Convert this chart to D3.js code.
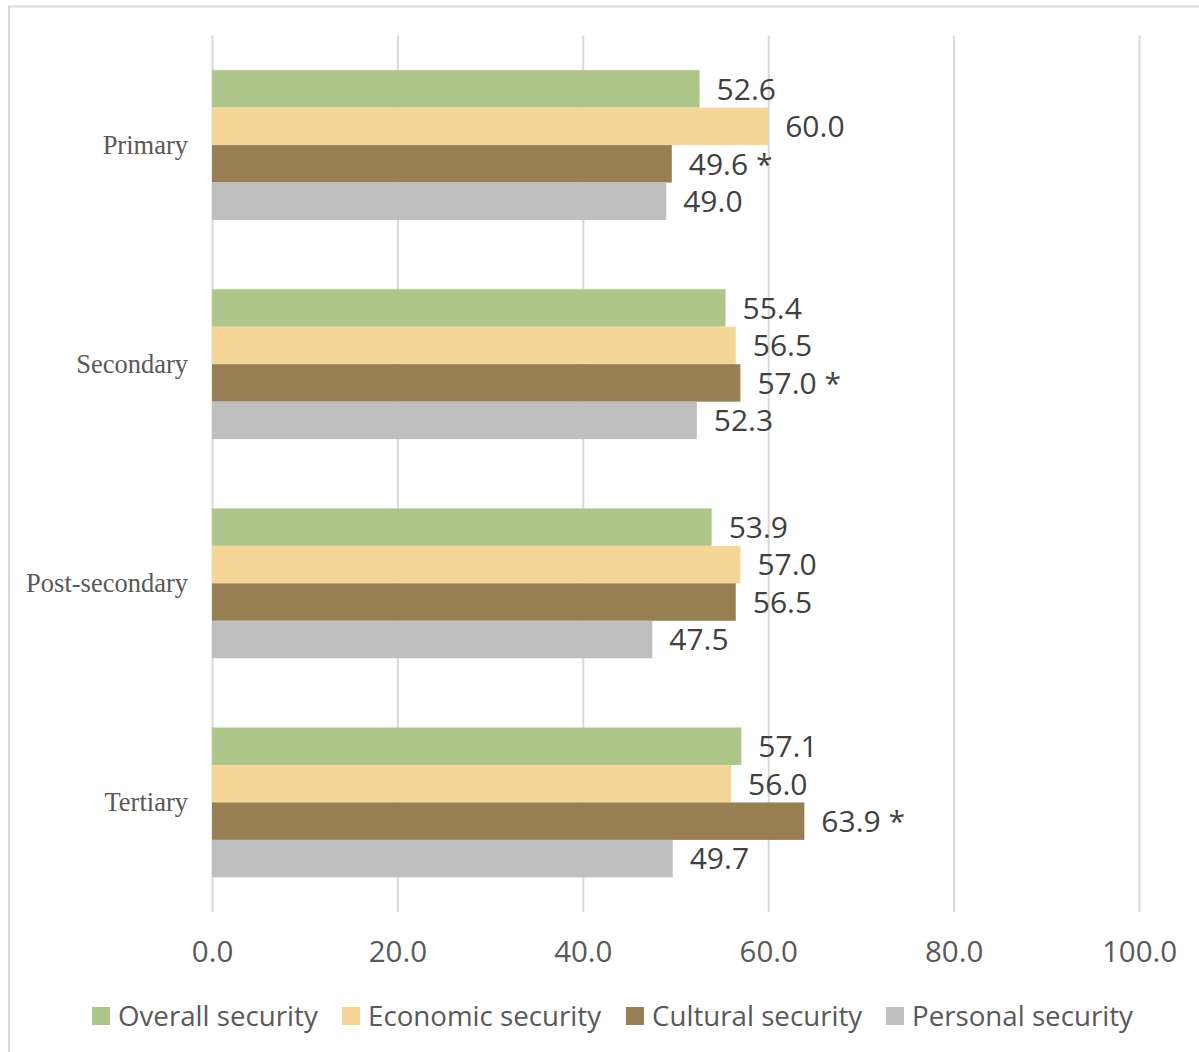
<!DOCTYPE html>
<html>
<head>
<meta charset="utf-8">
<script src="https://cdn.jsdelivr.net/npm/d3@7/dist/d3.min.js"></script>
<style>
  html, body { margin: 0; padding: 0; background: #fff; }
  svg { display: block; }
</style>
</head>
<body>
<svg id="chart" width="1199" height="1052"></svg>
<script>
// Education levels shown on the vertical axis
const categories = ["Primary", "Secondary", "Post-secondary", "Tertiary"];

// Security scores per education level
const overallSecurity  = [52.6, 55.4, 53.9, 57.1];
const economicSecurity = [60.0, 56.5, 57.0, 56.0];
const culturalSecurity = [49.6, 57.0, 56.5, 63.9];
const personalSecurity = [49.0, 52.3, 47.5, 49.7];

// Significance flags for the cultural security scores
const culturalSignificant = [true, true, false, true];

const seriesNames = ["Overall security", "Economic security", "Cultural security", "Personal security"];
const seriesColors = ["#aec68a", "#f5d696", "#987f53", "#bfbfbf"];
const tickValues = [0, 20, 40, 60, 80, 100];

const seriesValues = [overallSecurity, economicSecurity, culturalSecurity, personalSecurity];
const flags = [null, null, culturalSignificant, null];

const svg = d3.select("#chart");
const W = 1199, H = 1052;

// chart frame
svg.append("rect")
  .attr("x", 9).attr("y", 6.5)
  .attr("width", W + 20).attr("height", H + 20)
  .attr("fill", "#fff").attr("stroke", "#d9d9d9").attr("stroke-width", 2);

const plot = { left: 212, right: 1139, top: 35.5, bottom: 912 };

const x = d3.scaleLinear().domain([0, 100]).range([plot.left, plot.right]);
const y = d3.scaleBand().domain(categories).range([plot.top, plot.bottom]).paddingInner(0.316).paddingOuter(0.158);
const ySub = d3.scaleBand().domain(seriesNames).range([0, y.bandwidth()]);

// vertical gridlines
const grid = d3.axisBottom(x).tickValues(tickValues).tickSize(-(plot.bottom - plot.top)).tickFormat("");
svg.append("g")
  .attr("transform", `translate(0,${plot.bottom})`)
  .call(grid)
  .call(g => g.select(".domain").remove())
  .call(g => g.selectAll("line").attr("stroke", "#d9d9d9").attr("stroke-width", 2));

// value axis labels
const xAxis = d3.axisBottom(x).tickValues(tickValues).tickSize(0).tickPadding(0).tickFormat(d3.format(".1f"));
svg.append("g")
  .attr("transform", `translate(0,${plot.bottom})`)
  .call(xAxis)
  .call(g => g.select(".domain").remove())
  .call(g => g.selectAll("text")
    .attr("y", 50).attr("dy", 0)
    .attr("font-family", "Open Sans").attr("font-size", 29.5).attr("fill", "#595959"));

// category labels
const yAxis = d3.axisLeft(y).tickSize(0).tickPadding(24);
svg.append("g")
  .attr("transform", `translate(${plot.left},0)`)
  .call(yAxis)
  .call(g => g.select(".domain").remove())
  .call(g => g.selectAll("text")
    .attr("font-family", "Liberation Serif").attr("font-size", 26.5).attr("fill", "#595959"));

// bars and value labels
const rows = [];
categories.forEach((c, ci) => {
  seriesNames.forEach((s, si) => {
    rows.push({ cat: c, series: s, si, value: seriesValues[si][ci], flag: flags[si] ? flags[si][ci] : false });
  });
});

svg.append("g").selectAll("rect")
  .data(rows).join("rect")
  .attr("x", x(0))
  .attr("y", d => y(d.cat) + ySub(d.series))
  .attr("width", d => x(d.value) - x(0))
  .attr("height", ySub.bandwidth())
  .attr("fill", d => seriesColors[d.si]);

svg.append("g").selectAll("text")
  .data(rows).join("text")
  .attr("x", d => x(d.value) + 17)
  .attr("y", d => y(d.cat) + ySub(d.series) + ySub.bandwidth() / 2)
  .attr("dy", "0.36em")
  .attr("font-family", "Open Sans").attr("font-size", 30).attr("fill", "#404040")
  .text(d => d3.format(".1f")(d.value) + (d.flag ? " *" : ""));

// legend
const legendX = [92, 342, 626, 886];
const legend = svg.append("g").selectAll("g")
  .data(seriesNames).join("g")
  .attr("transform", (d, i) => `translate(${legendX[i]},1016)`);
legend.append("rect")
  .attr("x", 0).attr("y", -9).attr("width", 18).attr("height", 18)
  .attr("fill", (d, i) => seriesColors[i]);
legend.append("text")
  .attr("x", 26).attr("y", 0).attr("dy", "0.36em")
  .attr("font-family", "Open Sans").attr("font-size", 27.7).attr("fill", "#595959")
  .text(d => d);
</script>
</body>
</html>
